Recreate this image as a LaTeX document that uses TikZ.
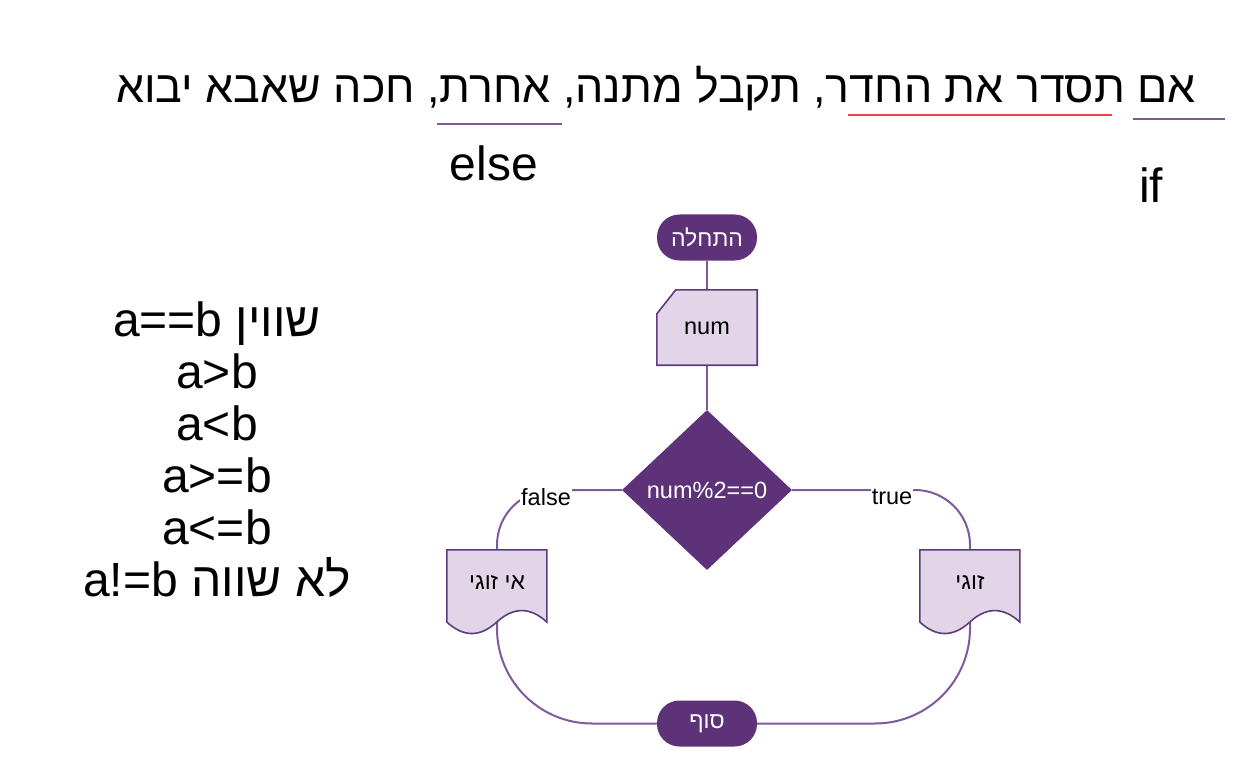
\documentclass[tikz,border=0pt]{standalone}
\usepackage{fontspec}
\setmainfont{Liberation Sans}
\newfontfamily\heb[Script=Hebrew]{Liberation Sans}
\TeXXeTstate=1
\usetikzlibrary{shapes.geometric,calc}
\definecolor{dpurp}{HTML}{5E3278}
\definecolor{lpurp}{HTML}{E1D5E7}
\definecolor{bpurp}{HTML}{5E3A7E}
\definecolor{cpurp}{HTML}{7E5A9B}
\definecolor{redl}{HTML}{E84545}
\tikzset{
  term/.style={rectangle, rounded corners=22.5pt, fill=dpurp, text=white,
    minimum width=100pt, minimum height=46pt, inner sep=0pt, font=\fontsize{23}{27}\selectfont\heb},
  cardbox/.style={rectangle, minimum width=100pt, minimum height=75pt, inner sep=0pt},
  docbox/.style={rectangle, minimum width=100pt, minimum height=85pt, inner sep=0pt},
  decis/.style={diamond, fill=dpurp, text=white, minimum width=170pt, minimum height=160pt,
    inner sep=0pt, font=\fontsize{23.5}{27}\selectfont},
  conn/.style={draw=cpurp, line width=2pt},
  shapeline/.style={draw=bpurp, line width=1.6pt, fill=lpurp},
  lbl/.style={fill=white, inner sep=1pt, font=\fontsize{23.5}{27}\selectfont},
  boxtxt/.style={font=\fontsize{23.5}{27}\selectfont},
  hebtxt/.style={font=\fontsize{23}{27}\selectfont\heb},
  big/.style={font=\fontsize{48}{52}\selectfont},
}
\begin{document}
\begin{tikzpicture}[x=1pt,y=-1pt]
\useasboundingbox (0,0) rectangle (1250,770);
% title
\node[font=\fontsize{44.7}{50}\selectfont, anchor=base, inner sep=0pt] (title) at (656,103) {\heb\beginR אם תסדר את החדר, תקבל מתנה, אחרת, חכה שאבא יבוא\endR};
\draw[draw=cpurp, line width=2.5pt] (1133,119) -- (1225,119);
\draw[draw=redl, line width=2.5pt] (848,115) -- (1112,115);
\draw[draw=cpurp, line width=2.5pt] (437,124) -- (562,124);
\node[big, inner sep=0pt] (else) at (494,163) {else};
\node[big, inner sep=0pt] (if) at (1151,185) {if};
% operator list
\node[align=center, inner sep=0pt, font=\fontsize{48}{52}\selectfont] (ops) at (217,450)
  {a==b {\heb\beginR שווין\endR}\\ a>b\\ a<b\\ a>=b\\ a<=b\\ a!=b {\heb\beginR לא שווה\endR}};
% flowchart
\node[term] (start) at (707,237.5) {\beginR התחלה\endR};
\node[cardbox] (inp) at (707,327.5) {};
\node[decis] (dec) at (707,490) {num\%2==0};
\node[docbox] (docL) at (497,592.5) {};
\node[docbox] (docR) at (970,592.5) {};
\node[term] (endn) at (707,723.5) {\beginR סוף\endR};
% connectors
\draw[conn] (start) -- (inp);
\draw[conn] (inp) -- (dec);
\coordinate (docLb) at ($(docL.north)+(0,72)$);
\coordinate (docRb) at ($(docR.north)+(0,72)$);
\draw[conn, rounded corners=55pt] (dec.west) -| (docL.north);
\draw[conn, rounded corners=55pt] (dec.east) -| (docR.north);
\draw[conn, rounded corners=95pt] (docLb) |- (endn.west);
\draw[conn, rounded corners=95pt] (docRb) |- (endn.east);
% card shape
\draw[shapeline] ($(inp.north west)+(0,24)$) -- ($(inp.north west)+(19,0)$) -- (inp.north east)
  -- (inp.south east) -- (inp.south west) -- cycle;
\node[boxtxt] (inptxt) at ($(inp.center)+(0,1)$) {num};
% documents
\foreach \d in {docL,docR}{
  \begin{scope}[shift={(\d.north west)}]
    \draw[shapeline] (0,0) -- (100,0) -- (100,72.25)
      .. controls (83.33,56.95) and (66.67,56.95) .. (50,72.25)
      .. controls (33.33,87.55) and (16.67,87.55) .. (0,72.25) -- cycle;
  \end{scope}
}
\node[hebtxt] (tL) at (497,583) {\beginR אי זוגי\endR};
\node[hebtxt] (tR) at (970,583) {\beginR זוגי\endR};
% labels
\node[lbl] (fl) at (546,497) {false};
\node[lbl] (tl) at (892,497) {true};
\end{tikzpicture}
\end{document}
